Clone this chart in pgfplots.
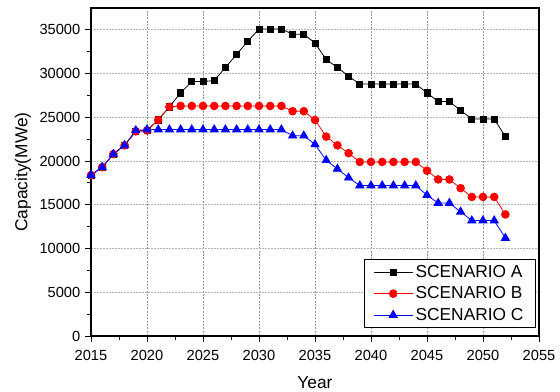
\documentclass[border=0pt]{standalone}
\usepackage{pgfplots}
\pgfplotsset{compat=1.18}
\usepackage{fontspec}
\setmainfont{Liberation Sans}
\pgfplotstableread{
year A B C
2015 18400 18400 18400
2016 19300 19300 19300
2017 20800 20800 20800
2018 21800 21800 21800
2019 23400 23400 23500
2020 23500 23500 23600
2021 24700 24700 23600
2022 26200 26200 23600
2023 27800 26300 23600
2024 29100 26300 23600
2025 29100 26300 23600
2026 29200 26300 23600
2027 30700 26300 23600
2028 32200 26300 23600
2029 33700 26300 23600
2030 35100 26300 23600
2031 35100 26300 23600
2032 35100 26300 23600
2033 34500 25700 22900
2034 34500 25700 22900
2035 33500 24700 21900
2036 31600 22800 20100
2037 30700 21800 19100
2038 29700 20900 18100
2039 28800 19900 17200
2040 28800 19900 17200
2041 28800 19900 17200
2042 28800 19900 17200
2043 28800 19900 17200
2044 28800 19900 17200
2045 27800 18900 16100
2046 26800 17900 15200
2047 26800 17900 15200
2048 25800 16900 14200
2049 24800 15900 13200
2050 24800 15900 13200
2051 24800 15900 13200
2052 22800 13900 11200
}\datatable
\begin{document}
\begin{tikzpicture}
\useasboundingbox (-68.25pt,-42pt) rectangle (351.75pt,252pt);
\begin{axis}[
  scale only axis,
  width=336pt, height=246pt,
  xmin=2015, xmax=2055, ymin=0, ymax=37500,
  xtick={2015,2020,...,2055},
  ytick={0,5000,...,35000},
  scaled y ticks=false, scaled x ticks=false,
  minor x tick num=1, minor y tick num=1,
  tick pos=left, tick align=outside,
  major tick length=4.5pt, minor tick length=3pt,
  tick style={black, line width=0.7pt},
  axis line style={line width=0.8pt},
  /pgf/number format/.cd, 1000 sep={}, assume math mode=true, /pgfplots/.cd,
  ticklabel style={font=\fontsize{11}{13}\selectfont},
  xticklabel style={yshift=-2.5pt},
  xmajorgrids, ymajorgrids,
  x grid style={gray!85, dash pattern=on 1.5pt off 1pt, line width=0.5pt},
  y grid style={gray!60, dash pattern=on 1.5pt off 0.75pt, line width=0.6pt},
  xlabel={Year}, ylabel={Capacity(MWe)},
  label style={font=\fontsize{13}{15}\selectfont},
  xlabel style={at={(axis description cs:0.5,-0.142)}, anchor=center},
  ylabel style={at={(axis description cs:-0.152,0.5)}, anchor=center},
  legend style={at={(0.9933,0.0244)}, anchor=south east, draw=black, line width=0.8pt,
    font=\fontsize{13}{15}\selectfont, row sep=1.5pt, inner xsep=7pt, inner ysep=2pt},
  legend cell align=left,
  legend image code/.code={\draw[mark repeat=2,mark phase=2] plot coordinates {(0pt,0pt) (14.5pt,0pt) (29pt,0pt)};},
]
\addplot[black, line width=0.6pt, mark=square*, mark size=2.3pt, mark options={solid}] table[x=year,y=A] {\datatable};
\addlegendentry{SCENARIO A}
\addplot[red, line width=0.6pt, mark=*, mark size=2.9pt, mark options={solid}] table[x=year,y=B] {\datatable};
\addlegendentry{SCENARIO B}
\addplot[blue, line width=0.6pt, mark=triangle*, mark size=3.5pt, mark options={solid}] table[x=year,y=C] {\datatable};
\addlegendentry{SCENARIO C}
\end{axis}
\end{tikzpicture}
\end{document}
